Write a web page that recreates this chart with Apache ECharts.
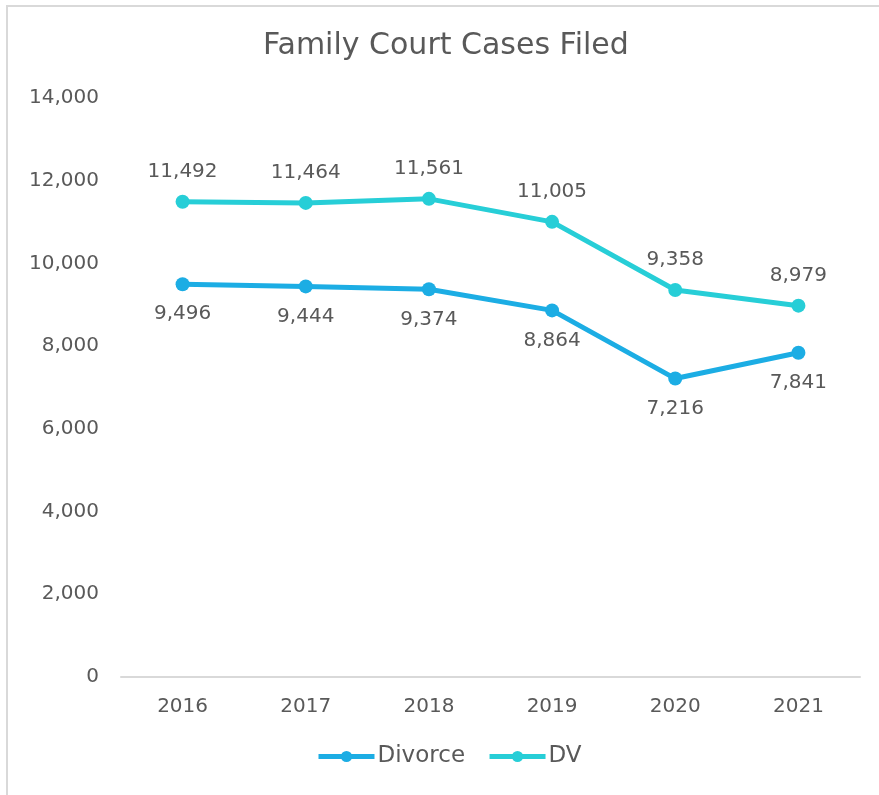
<!DOCTYPE html>
<html>
<head>
<meta charset="utf-8">
<script src="https://cdn.jsdelivr.net/npm/echarts@6/dist/echarts.min.js"></script>
<style>
  html, body { margin: 0; padding: 0; background: #fff; }
  #chart { width: 879px; height: 795px; }
</style>
</head>
<body>
<div id="chart"></div>
<script>
let years = ['2016', '2017', '2018', '2019', '2020', '2021'];
let divorceData = [9496, 9444, 9374, 8864, 7216, 7841];
let dvData = [11492, 11464, 11561, 11005, 9358, 8979];

let fontName = '"DejaVu Sans", sans-serif';
let textColor = '#595959';

// 初始化图表
let myChart = echarts.init(document.getElementById('chart'));

let option = {
    animation: false,
    graphic: [{
        type: 'rect',
        shape: { x: 7, y: 6, width: 900, height: 900 },
        style: { fill: 'none', stroke: '#d9d9d9', lineWidth: 2 }
    }],
    title: {
        text: 'Family Court Cases Filed',
        left: 258,
        top: 26,
        textStyle: {
            color: textColor,
            fontFamily: fontName,
            fontWeight: 'normal',
            fontSize: 30
        }
    },
    legend: {
        bottom: 22,
        left: 311,
        itemWidth: 56,
        itemHeight: 14,
        itemGap: 22,
        lineStyle: { width: 5 },
        textStyle: { color: textColor, fontFamily: fontName, fontSize: 23, padding: [0, 0, 0, -2] },
        data: ['Divorce', 'DV']
    },
    color: ['#1CADE4', '#27CED7'],
    grid: {
        left: 121,
        right: 19,
        top: 98,
        bottom: 118
    },
    xAxis: {
        type: 'category',
        data: years,
        axisLine: { lineStyle: { color: '#d9d9d9', width: 2 } },
        axisTick: { show: false },
        axisLabel: { color: textColor, fontFamily: fontName, fontSize: 20, margin: 20 }
    },
    yAxis: {
        type: 'value',
        min: 0,
        max: 14000,
        interval: 2000,
        splitLine: { show: false },
        axisLine: { show: false },
        axisTick: { show: false },
        axisLabel: {
            color: textColor, fontFamily: fontName, fontSize: 20, margin: 22,
            formatter: function (v) { return v.toLocaleString('en-US'); }
        }
    },
    series: [{
        name: 'Divorce',
        type: 'line',
        data: divorceData,
        symbol: 'circle',
        symbolSize: 14,
        lineStyle: { width: 5 },
        label: {
            show: true,
            position: 'bottom',
            distance: 13,
            color: textColor,
            fontFamily: fontName,
            fontSize: 20,
            formatter: function (p) { return p.value.toLocaleString('en-US'); }
        }
    }, {
        name: 'DV',
        type: 'line',
        data: dvData,
        symbol: 'circle',
        symbolSize: 14,
        lineStyle: { width: 5 },
        label: {
            show: true,
            position: 'top',
            distance: 13,
            color: textColor,
            fontFamily: fontName,
            fontSize: 20,
            formatter: function (p) { return p.value.toLocaleString('en-US'); }
        }
    }]
};

myChart.setOption(option);
</script>
</body>
</html>
